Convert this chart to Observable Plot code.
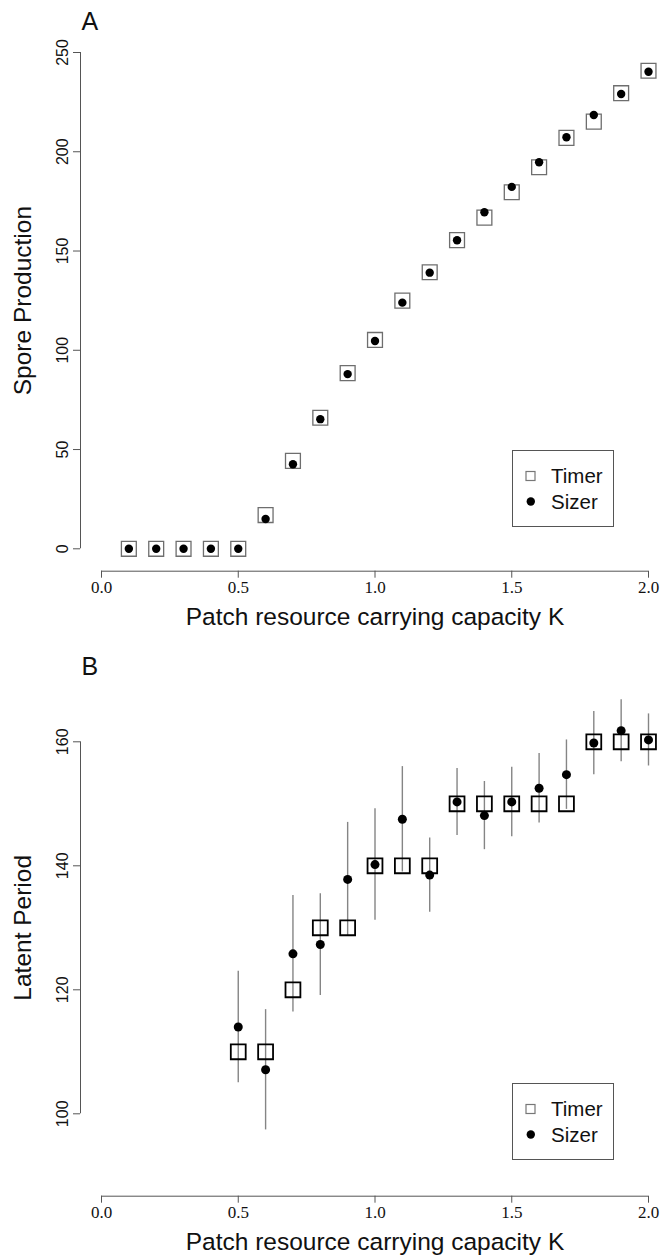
<!DOCTYPE html>
<html>
<head>
<meta charset="utf-8">
<script src="https://cdn.jsdelivr.net/npm/d3@7"></script>
<script src="https://cdn.jsdelivr.net/npm/@observablehq/plot@0.6"></script>
<style>
  body { margin: 0; background: #fff; }
  #wrap { position: relative; width: 661px; height: 1260px; background: #fff; }
  .panel { position: relative; width: 661px; }
  .legend { position: absolute; }
</style>
</head>
<body>
<div id="wrap"></div>
<script>
// ---------- data ----------
const xTicks = [0, 0.5, 1.0, 1.5, 2.0];
const yTicksA = [0, 50, 100, 150, 200, 250];
const yTicksB = [100, 120, 140, 160];
const seriesNames = ["Timer", "Sizer"];
const panelLetters = ["A", "B"];
const xLabel = "Patch resource carrying capacity K";
const yLabels = ["Spore Production", "Latent Period"];

// Panel A: spore production
const kA = [0.1, 0.2, 0.3, 0.4, 0.5, 0.6, 0.7, 0.8, 0.9, 1.0, 1.1, 1.2, 1.3, 1.4, 1.5, 1.6, 1.7, 1.8, 1.9, 2.0];
const timerA = [0, 0, 0, 0, 0, 17.0, 44.3, 66.0, 88.5, 105.2, 125.0, 139.3, 155.5, 166.8, 179.6, 192.2, 207.0, 215.2, 229.5, 240.8];
const sizerA = [0, 0, 0, 0, 0, 15.0, 42.6, 65.3, 88.0, 104.7, 124.0, 139.1, 155.4, 169.5, 182.3, 194.7, 207.3, 218.5, 229.1, 240.3];

// Panel B: latent period
const kB = [0.5, 0.6, 0.7, 0.8, 0.9, 1.0, 1.1, 1.2, 1.3, 1.4, 1.5, 1.6, 1.7, 1.8, 1.9, 2.0];
const timerB = [110, 110, 120, 130, 130, 140, 140, 140, 150, 150, 150, 150, 150, 160, 160, 160];
const sizerB = [114.0, 107.1, 125.8, 127.3, 137.8, 140.2, 147.5, 138.5, 150.3, 148.1, 150.3, 152.5, 154.7, 159.8, 161.8, 160.3];
const sizerSdB = [9.0, 9.7, 9.4, 8.2, 9.2, 9.0, 8.5, 6.0, 5.4, 5.5, 5.6, 5.6, 5.6, 5.1, 5.0, 4.2];

// ---------- build ----------
const SANS = "'Liberation Sans', Arial, Helvetica, sans-serif";
const SERIF = "'Liberation Serif', 'Times New Roman', serif";

const rowsA = kA.map((k, i) => ({k, timer: timerA[i], sizer: sizerA[i]}));
const rowsB = kB.map((k, i) => ({k, timer: timerB[i], sizer: sizerB[i], lo: sizerB[i] - sizerSdB[i], hi: sizerB[i] + sizerSdB[i]}));

function makePanel(cfg) {
  const {rows, height, yTicks, yRange, marginTop, marginBottom, axisDy, letter, letterDy, yLabel,
         squareStroke, squareWidth, dotR, errorBars} = cfg;
  const marks = [
    // axis lines spanning the tick range (R style)
    Plot.ruleY([yTicks[0]], {x1: xTicks[0], x2: xTicks[xTicks.length - 1], dy: axisDy, stroke: "#555", strokeWidth: 1}),
    Plot.ruleX([xTicks[0]], {y1: yTicks[0], y2: yTicks[yTicks.length - 1], dx: -21, stroke: "#555", strokeWidth: 1}),
    Plot.axisX({ticks: xTicks, tickFormat: d3.format(".1f"), tickSize: 7, tickPadding: 3,
                fontSize: 17, fontFamily: SERIF, stroke: "#555", fill: "#111", label: null}),
    Plot.axisY({ticks: yTicks, tickFormat: d => String(d), tickSize: 7, tickRotate: -90, tickPadding: 6,
                fontSize: 16, fontFamily: SANS, stroke: "#555", fill: "#111", label: null}),
    Plot.text([xLabel], {x: d3.mean([xTicks[0], xTicks[xTicks.length - 1]]), frameAnchor: "bottom", dy: 46,
                textAnchor: "middle", lineAnchor: "middle",
                fontSize: 24.5, fontFamily: SANS, fill: "#111"}),
    Plot.text([yLabel], {y: d3.mean([yTicks[0], yTicks[yTicks.length - 1]]), frameAnchor: "left", rotate: -90, dx: -57,
                textAnchor: "middle", lineAnchor: "middle",
                fontSize: 24.5, fontFamily: SANS, fill: "#111"}),
    Plot.text([letter], {frameAnchor: "top-left", textAnchor: "start", lineAnchor: "middle", dx: 1, dy: letterDy,
                fontSize: 25, fontFamily: SANS, fill: "#111"})
  ];
  if (errorBars) {
    marks.push(Plot.ruleX(rows, {x: "k", y1: "lo", y2: "hi", stroke: "#858585", strokeWidth: 1.4}));
  }
  marks.push(
    Plot.dot(rows, {x: "k", y: "timer", symbol: "square", r: 8.4, stroke: squareStroke, strokeWidth: squareWidth, fill: "none"}),
    Plot.dot(rows, {x: "k", y: "sizer", r: dotR, fill: "#000", stroke: "none"})
  );
  return Plot.plot({
    width: 661,
    height,
    marginLeft: 80,
    marginRight: 0,
    marginTop,
    marginBottom,
    x: {domain: [xTicks[0], xTicks[xTicks.length - 1]], range: [101, 648]},
    y: {domain: [yTicks[0], yTicks[yTicks.length - 1]], range: yRange},
    style: {background: "transparent", fontFamily: SANS, color: "#111", overflow: "visible"},
    marks
  });
}

function makeLegend(left, top) {
  const w = 102, h = 77;
  const svg = d3.create("svg").attr("width", w).attr("height", h)
    .attr("class", "legend").style("left", left + "px").style("top", top + "px");
  svg.append("rect").attr("x", 0.5).attr("y", 0.5).attr("width", w - 1).attr("height", h - 1)
    .attr("fill", "#fff").attr("stroke", "#555").attr("stroke-width", 1);
  seriesNames.forEach((name, i) => {
    const cy = 26 + i * 25.5;
    if (i === 0) {
      svg.append("rect").attr("x", 18.5 - 4.5).attr("y", cy - 4.5).attr("width", 9).attr("height", 9)
        .attr("fill", "none").attr("stroke", "#777").attr("stroke-width", 1.2);
    } else {
      svg.append("circle").attr("cx", 18.8).attr("cy", cy).attr("r", 4.2).attr("fill", "#000");
    }
    svg.append("text").attr("x", 39).attr("y", cy).attr("dy", "0.35em")
      .attr("font-family", SANS).attr("font-size", 20.5).attr("fill", "#111").text(name);
  });
  return svg.node();
}

const wrap = document.getElementById("wrap");

const pA = document.createElement("div"); pA.className = "panel"; pA.style.height = "640px";
pA.appendChild(makePanel({
  rows: rowsA, height: 640, yTicks: yTicksA, yRange: [548.3, 52], marginTop: 52, marginBottom: 69.3, axisDy: 22.4,
  letter: panelLetters[0], letterDy: -31, yLabel: yLabels[0],
  squareStroke: "#6e6e6e", squareWidth: 1.3, dotR: 4.2, errorBars: false
}));
pA.appendChild(makeLegend(512, 450));
wrap.appendChild(pA);

const pB = document.createElement("div"); pB.className = "panel"; pB.style.height = "620px";
pB.appendChild(makePanel({
  rows: rowsB, height: 620, yTicks: yTicksB, yRange: [473.3, 101.3], marginTop: 101.3, marginBottom: 64.3, axisDy: 82.4,
  letter: panelLetters[1], letterDy: -75, yLabel: yLabels[1],
  squareStroke: "#000", squareWidth: 1.8, dotR: 4.5, errorBars: true
}));
pB.appendChild(makeLegend(512, 442.7));
wrap.appendChild(pB);
</script>
</body>
</html>
